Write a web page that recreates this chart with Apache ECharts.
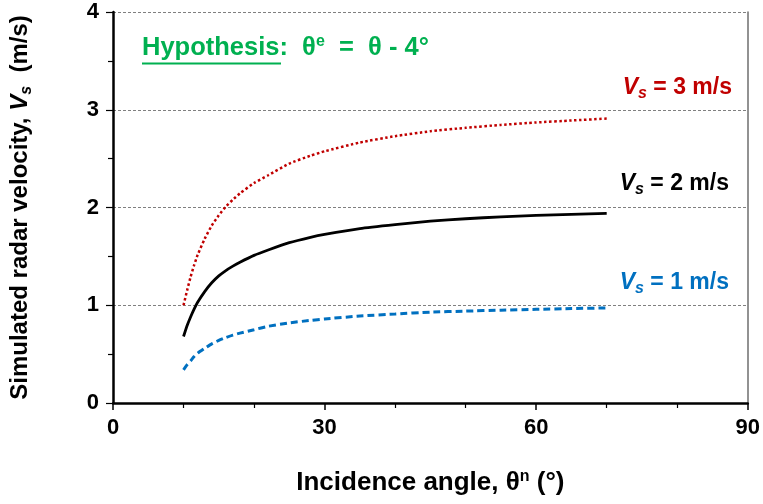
<!DOCTYPE html>
<html>
<head>
<meta charset="utf-8">
<script src="https://cdn.jsdelivr.net/npm/echarts@6/dist/echarts.min.js"></script>
<style>html,body{margin:0;padding:0;background:#fff}#c{width:763px;height:504px}</style>
</head>
<body>
<div id="c"></div>
<script>
// Data
var angles = [10, 10.5, 11, 11.5, 12, 13, 14, 15, 16, 17, 18, 20, 22, 25, 28, 30, 35, 40, 45, 50, 55, 60, 65, 70];
var vs3 = [1.00, 1.15, 1.29, 1.41, 1.515, 1.68, 1.815, 1.92, 2.01, 2.08, 2.145, 2.25, 2.33, 2.45, 2.53, 2.575, 2.665, 2.73, 2.78, 2.815, 2.845, 2.87, 2.89, 2.91];
var vs2 = [0.68, 0.79, 0.88, 0.96, 1.03, 1.14, 1.23, 1.30, 1.355, 1.40, 1.44, 1.51, 1.565, 1.64, 1.695, 1.725, 1.785, 1.825, 1.86, 1.885, 1.905, 1.92, 1.93, 1.94];
var vs1 = [0.34, 0.39, 0.43, 0.475, 0.51, 0.56, 0.605, 0.64, 0.67, 0.695, 0.715, 0.75, 0.785, 0.82, 0.845, 0.86, 0.89, 0.91, 0.93, 0.94, 0.95, 0.958, 0.966, 0.972];
var xTicks = [0, 30, 60, 90];
var yTicks = [0, 1, 2, 3, 4];

function pairs(xs, ys) { return xs.map(function (x, i) { return [x, ys[i]]; }); }

var FONT = '"Liberation Sans", Arial, sans-serif';
var chart = echarts.init(document.getElementById('c'), null, { renderer: 'canvas' });

function vsLabel(txt, color, right, y) {
  return {
    type: 'text', right: right, top: y - 15, z: 10,
    style: {
      text: '{v|V}{s|s}{t|' + txt + '}',
      fill: color,
      rich: {
        v: { fontFamily: FONT, fontWeight: 'bold', fontStyle: 'italic', fontSize: 23, fill: color },
        s: { fontFamily: FONT, fontWeight: 'bold', fontStyle: 'italic', fontSize: 16, fill: color, padding: [13, 0, 0, 0] },
        t: { fontFamily: FONT, fontWeight: 'bold', fontSize: 23, fill: color }
      }
    }
  };
}

var option = {
  animation: false,
  grid: { left: 113, right: 12, top: 12, bottom: 101, containLabel: false },
  xAxis: {
    type: 'value', min: 0, max: 90, interval: 30,
    name: 'Incidence angle, {th|θ}{sup|n}{b| (°)}',
    nameLocation: 'middle', nameGap: 66,
    nameTextStyle: {
      fontFamily: FONT, fontWeight: 'bold', fontSize: 26, color: '#000',
      rich: {
        th: { fontFamily: FONT, fontWeight: 'bold', fontSize: 26, color: '#000' },
        sup: { fontFamily: FONT, fontWeight: 'bold', fontSize: 16, color: '#000', padding: [0, 0, 12, 0] },
        b: { fontFamily: FONT, fontWeight: 'bold', fontSize: 26, color: '#000' }
      }
    },
    axisLine: { show: true, lineStyle: { color: '#000', width: 2.5 } },
    axisTick: { show: true, inside: false, length: 7, lineStyle: { color: '#000', width: 1.5 } },
    minorTick: { show: true, splitNumber: 3, length: 5, lineStyle: { color: '#000', width: 1.2 } },
    axisLabel: {
      margin: 14, fontFamily: FONT, fontWeight: 'bold', fontSize: 22, color: '#000',
      formatter: function (v) { return xTicks.indexOf(v) >= 0 ? String(v) : ''; }
    },
    splitLine: { show: false }
  },
  yAxis: [{
    type: 'value', min: 0, max: 4, interval: 1,
    name: 'Simulated radar velocity, {v|V}{s|s}{t|  (m/s)}',
    nameLocation: 'middle', nameGap: 78, nameRotate: 90,
    nameTextStyle: {
      fontFamily: FONT, fontWeight: 'bold', fontSize: 24, color: '#000',
      rich: {
        v: { fontFamily: FONT, fontWeight: 'bold', fontStyle: 'italic', fontSize: 24, color: '#000' },
        s: { fontFamily: FONT, fontWeight: 'bold', fontStyle: 'italic', fontSize: 16, color: '#000', padding: [14, 0, 0, 0] },
        t: { fontFamily: FONT, fontWeight: 'bold', fontSize: 24, color: '#000' }
      }
    },
    axisLine: { show: true, lineStyle: { color: '#000', width: 2.5 } },
    axisTick: { show: true, inside: false, length: 7, lineStyle: { color: '#000', width: 1.2 } },
    minorTick: { show: true, splitNumber: 2, length: 5, lineStyle: { color: '#000', width: 1.2 } },
    axisLabel: {
      margin: 14, fontFamily: FONT, fontWeight: 'bold', fontSize: 22, color: '#000',
      formatter: function (v) { return yTicks.indexOf(v) >= 0 ? String(v) : ''; }
    },
    splitLine: { show: true, lineStyle: { color: '#808080', width: 1.2, type: [3, 2] } }
  }, {
    type: 'value', min: 0, max: 4, interval: 1, position: 'right',
    axisLine: { show: true, lineStyle: { color: '#6e6e6e', width: 1.5 } },
    axisTick: { show: false }, axisLabel: { show: false }, splitLine: { show: false }
  }],
  graphic: [
    {
      type: 'text', left: 142, top: 34, z: 10,
      style: {
        text: 'Hypothesis:  {th|θ}{sup|e}{n|  =  θ - 4°}',
        fill: '#00B050', fontFamily: FONT, fontWeight: 'bold', fontSize: 25.5,
        rich: {
          th: { fontFamily: FONT, fontWeight: 'bold', fontSize: 25.5, fill: '#00B050' },
          sup: { fontFamily: FONT, fontWeight: 'bold', fontSize: 16, fill: '#00B050', padding: [0, 0, 11, 0] },
          n: { fontFamily: FONT, fontWeight: 'bold', fontSize: 25.5, fill: '#00B050' }
        }
      }
    },
    {
      type: 'line', z: 10,
      shape: { x1: 142, y1: 63.5, x2: 281, y2: 63.5 },
      style: { stroke: '#00B050', lineWidth: 2 }
    },
    vsLabel(' = 3 m/s', '#C00000', 31, 91),
    vsLabel(' = 2 m/s', '#000000', 34, 187),
    vsLabel(' = 1 m/s', '#0070C0', 34, 286)
  ],
  series: [
    {
      type: 'line', data: pairs(angles, vs3), showSymbol: false, smooth: 0.15,
      lineStyle: { color: '#C00000', width: 2.5, type: [2.5, 2.5] }
    },
    {
      type: 'line', data: pairs(angles, vs2), showSymbol: false, smooth: 0.15,
      lineStyle: { color: '#000000', width: 2.8, type: 'solid' }
    },
    {
      type: 'line', data: pairs(angles, vs1), showSymbol: false, smooth: 0.15,
      lineStyle: { color: '#0070C0', width: 3, type: [7, 4] }
    }
  ]
};
chart.setOption(option);
</script>
</body>
</html>
